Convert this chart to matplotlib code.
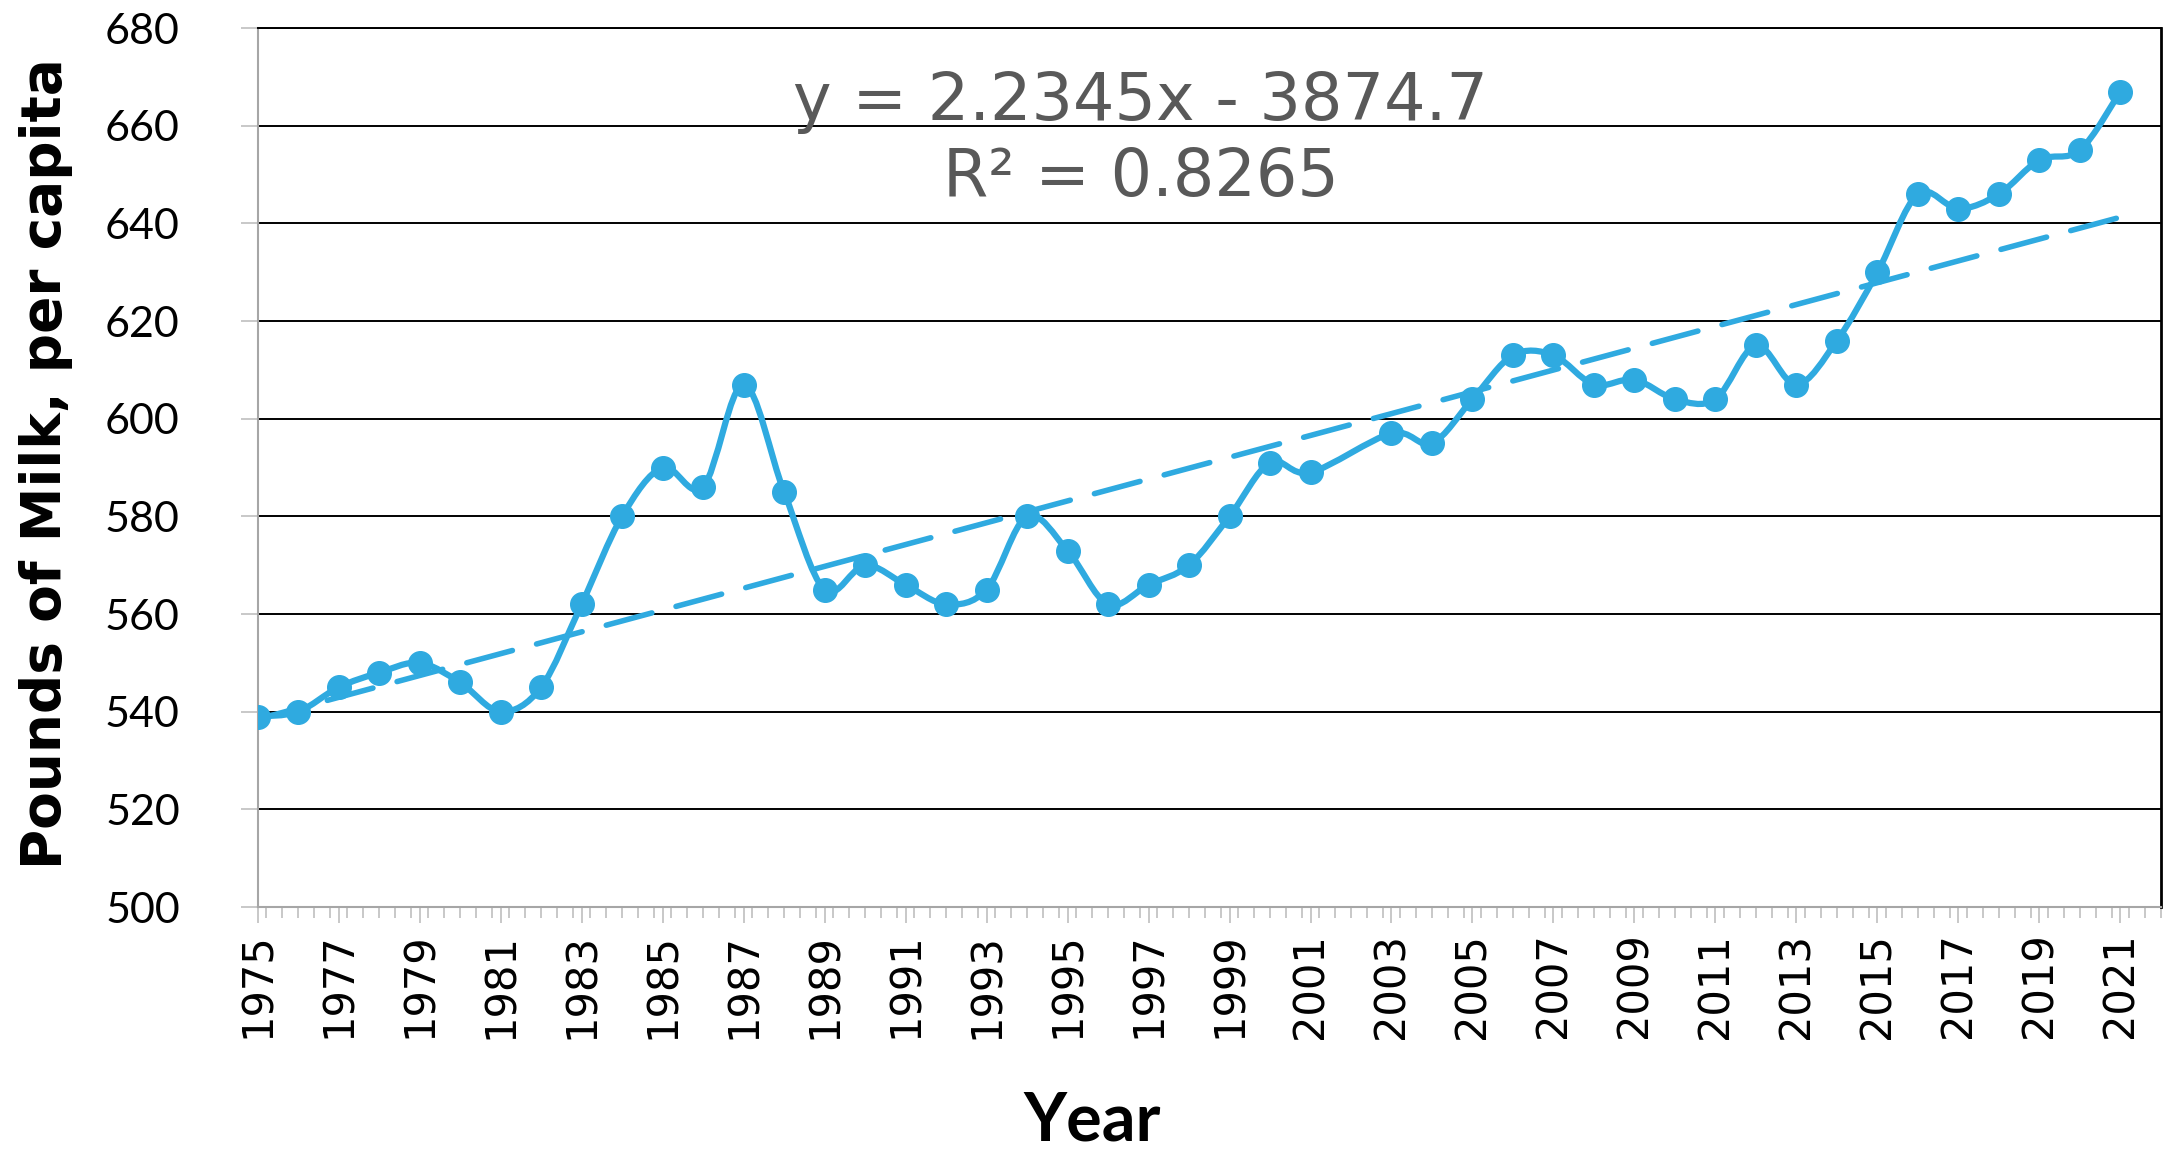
import numpy as np
import matplotlib
matplotlib.use("Agg")
import matplotlib.pyplot as plt
from matplotlib.path import Path
from matplotlib.patches import PathPatch
from matplotlib.ticker import MultipleLocator

plt.rcParams["font.family"] = "DejaVu Sans"

# milk per capita, pounds (2002 has no value in the source sheet)
years = list(range(1975, 2022))
milk = [539, 540, 545, 548, 550, 546, 540, 545, 562, 580,
        590, 586, 607, 585, 565, 570, 566, 562, 565, 580,
        573, 562, 566, 570, 580, 591, 589, np.nan, 597, 595,
        604, 613, 613, 607, 608, 604, 604, 615, 607, 616,
        630, 646, 643, 646, 653, 655, 667]
eq_text = "y = 2.2345x - 3874.7"
r2_text = "R\u00b2 = 0.8265"

blue = "#2FAAE0"
narrow = ["Lato", "DejaVu Sans"]

x = np.array(years, dtype=float)
y = np.array(milk, dtype=float)
ok = ~np.isnan(y)
xs, ys = x[ok], y[ok]


def smooth_path(px, py):
    # excel style smoothed line: bezier through every point
    verts = [(px[0], py[0])]
    codes = [Path.MOVETO]
    n = len(px)
    for i in range(n - 1):
        x0, y0 = (px[i - 1], py[i - 1]) if i > 0 else (px[i], py[i])
        x1, y1 = px[i], py[i]
        x2, y2 = px[i + 1], py[i + 1]
        x3, y3 = (px[i + 2], py[i + 2]) if i + 2 < n else (x2, y2)
        verts += [(x1 + (x2 - x0) / 6, y1 + (y2 - y0) / 6),
                  (x2 - (x3 - x1) / 6, y2 - (y3 - y1) / 6),
                  (x2, y2)]
        codes += [Path.CURVE4] * 3
    return Path(verts, codes)


fig = plt.figure(figsize=(21.72, 11.54), dpi=100)
ax = fig.add_axes([0.1186, 0.2140, 0.8763, 0.7617])

ax.set_xlim(1975, 2022)
ax.set_ylim(500, 680)
ax.yaxis.set_major_locator(MultipleLocator(20))
ax.set_xticks(np.arange(1975, 2022, 2))
ax.xaxis.set_minor_locator(MultipleLocator(0.4))
ax.grid(axis="y", color="black", lw=1.4)
ax.set_axisbelow(True)

# trend line
slope, icpt = np.polyfit(xs, ys, 1)
tx = np.array([1975, 2021])
ax.plot(tx, slope * tx + icpt, color=blue, lw=4, dashes=(8.5, 4.5),
        dash_capstyle="round", zorder=3)

ax.add_patch(PathPatch(smooth_path(xs, ys), facecolor="none", edgecolor=blue,
                       lw=4.5, zorder=4))
ax.plot(xs, ys, "o", color=blue, ms=17, zorder=5)

for s in ["left", "bottom"]:
    ax.spines[s].set_color("#A6A6A6")
    ax.spines[s].set_linewidth(1.5)
ax.spines["right"].set_color("black")
ax.spines["right"].set_linewidth(2)
ax.spines["top"].set_color("black")
ax.spines["top"].set_linewidth(1.4)

ax.tick_params(axis="y", direction="out", length=12, width=1.2, color="#BFBFBF",
               pad=44, labelsize=31)
ax.tick_params(axis="x", which="major", direction="out", length=11.5, width=1.2,
               color="#BFBFBF", pad=7, labelsize=30, labelrotation=90)
ax.tick_params(axis="x", which="minor", direction="out", length=8, width=1.2,
               color="#BFBFBF")
for lab in ax.get_yticklabels():
    lab.set_family(narrow)

ax.text(0.464, 0.895, eq_text, transform=ax.transAxes, ha="center", va="baseline",
        fontsize=47, color="#595959")
ax.text(0.464, 0.809, r2_text, transform=ax.transAxes, ha="center", va="baseline",
        fontsize=47, color="#595959")

fig.text(0.021, 0.598, "Pounds of Milk, per capita", rotation=90, ha="center",
         va="center", fontsize=39.5, fontweight="bold")
fig.text(0.503, 0.012, "Year", ha="center", va="baseline", fontsize=48,
         fontweight="bold", family=narrow)

fig.savefig("out.png", dpi=100, facecolor="white")
